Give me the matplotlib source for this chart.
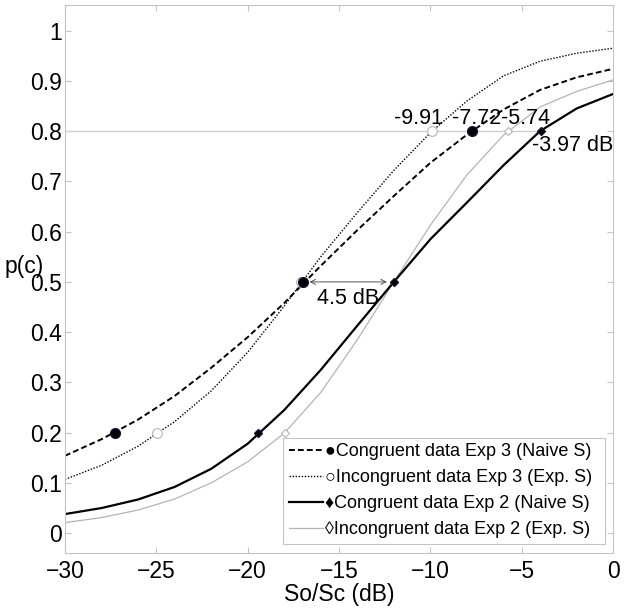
import matplotlib.pyplot as plt
from matplotlib.lines import Line2D

plt.rcParams['font.family'] = ['Liberation Sans', 'DejaVu Sans']

# fitted psychometric curves
snr = [-30, -28, -26, -24, -22, -20, -18, -16, -14, -12, -10, -8, -6, -4, -2, 0]
cong_exp3 = [0.154, 0.187, 0.226, 0.273, 0.329, 0.390, 0.458, 0.532, 0.603,
             0.671, 0.737, 0.793, 0.843, 0.882, 0.907, 0.924]
incong_exp3 = [0.107, 0.135, 0.173, 0.222, 0.283, 0.360, 0.452, 0.550, 0.638,
               0.722, 0.797, 0.860, 0.910, 0.939, 0.955, 0.965]
cong_exp2 = [0.038, 0.050, 0.067, 0.092, 0.128, 0.178, 0.245, 0.325, 0.413,
             0.500, 0.585, 0.658, 0.732, 0.800, 0.845, 0.874]
incong_exp2 = [0.021, 0.031, 0.046, 0.068, 0.100, 0.142, 0.199, 0.280, 0.385,
               0.500, 0.613, 0.713, 0.792, 0.848, 0.879, 0.902]

# thresholds at p(c) = 0.2, 0.5, 0.8
levels = [0.2, 0.5, 0.8]
cong_exp3_pts = [-27.26, -17.0, -7.72]
incong_exp3_pts = [-24.96, -17.1, -9.91]
cong_exp2_pts = [-19.42, -12.0, -3.97]
incong_exp2_pts = [-17.96, -12.0, -5.74]

legend_labels = ['\u25cfCongruent data Exp 3 (Naive S)',
                 '\u25cbIncongruent data Exp 3 (Exp. S)',
                 '\u2666Congruent data Exp 2 (Naive S)',
                 '\u25caIncongruent data Exp 2 (Exp. S)']

grey = '#b4b4b4'
axcol = '#c4c4c4'

fig = plt.figure(figsize=(6.25, 6.1), dpi=100)
ax = fig.add_axes([0.104, 0.093, 0.877, 0.898])

ax.plot([-30, cong_exp2_pts[2]], [0.8, 0.8], color='#cfcfcf', lw=1)

l4, = ax.plot(snr, incong_exp2, color=grey, lw=0.9)
l2, = ax.plot(snr, incong_exp3, color='black', lw=1.0, linestyle=(0, (1, 1.2)))
l1, = ax.plot(snr, cong_exp3, color='black', lw=1.4, linestyle=(0, (3, 1.6)))
l3, = ax.plot(snr, cong_exp2, color='black', lw=1.6)

ax.plot(incong_exp2_pts, levels, 'D', ms=4.5, mfc='white', mec=grey, mew=0.8)
ax.plot(incong_exp3_pts, levels, 'o', ms=7, mfc='white', mec=grey, mew=0.8)
ax.plot(cong_exp3_pts, levels, 'o', ms=7, mfc='black', mec='#111133')
ax.plot(cong_exp2_pts, levels, 'D', ms=4.5, mfc='black', mec='#111133')

ax.annotate('', xy=(cong_exp2_pts[1], 0.5), xytext=(cong_exp3_pts[1], 0.5),
            arrowprops=dict(arrowstyle='<->', color='#555555', lw=0.7,
                            shrinkA=5, shrinkB=5, mutation_scale=9))
ax.text(-14.5, 0.466, '4.5 dB', fontsize=15.5, ha='center', va='center')

ax.text(-10.68, 0.826, f'{incong_exp3_pts[2]:.2f}', fontsize=15.5, ha='center', va='center')
ax.text(-7.47, 0.826, f'{cong_exp3_pts[2]:.2f}', fontsize=15.5, ha='center', va='center')
ax.text(-4.77, 0.826, f'{incong_exp2_pts[2]:.2f}', fontsize=15.5, ha='center', va='center')
ax.text(-2.2, 0.772, f'{cong_exp2_pts[2]:.2f} dB', fontsize=15.5, ha='center', va='center')

ax.set_xlim(-30, 0)
ax.set_ylim(-0.04, 1.05)
ax.set_xticks(range(-30, 1, 5))
ax.set_yticks([i / 10 for i in range(11)])
ax.set_yticklabels(['0', '0.1', '0.2', '0.3', '0.4', '0.5', '0.6', '0.7', '0.8', '0.9', '1'])
ax.tick_params(direction='in', top=True, right=True, length=4, color=axcol,
               labelsize=16.5, labelcolor='black')
ax.tick_params(axis='y', pad=2)
ax.tick_params(axis='x', pad=5)
for s in ax.spines.values():
    s.set_color(axcol)

ax.set_xlabel('So/Sc (dB)', fontsize=16.5, labelpad=0)
ax.set_ylabel('p(c)', fontsize=16.5, rotation=0, ha='center', va='center')
ax.yaxis.set_label_coords(-0.075, 0.523)

handles = [Line2D([], [], color='black', lw=1.4, linestyle=(0, (3, 1.6))),
           Line2D([], [], color='black', lw=1.0, linestyle=(0, (1, 1.2))),
           Line2D([], [], color='black', lw=1.6),
           Line2D([], [], color=grey, lw=0.9)]
leg = ax.legend(handles, legend_labels, loc='lower left', mode='expand',
                bbox_to_anchor=(0.398, 0.0174, 0.588, 0.2), borderaxespad=0,
                fontsize=13, handlelength=1.9, handletextpad=0.1, labelspacing=0.5,
                borderpad=0.3, fancybox=False, framealpha=1)
leg.get_frame().set_edgecolor(axcol)
leg.get_frame().set_linewidth(0.8)

fig.savefig('out.png', dpi=100)
